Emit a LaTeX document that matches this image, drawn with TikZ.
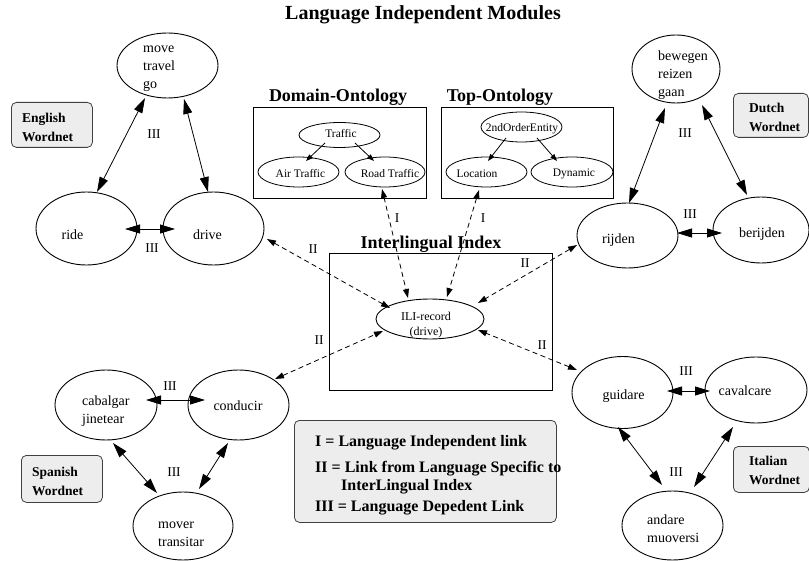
\documentclass[tikz,border=0pt]{standalone}
\usepackage{fontspec}
\setmainfont{Liberation Serif}
\usetikzlibrary{arrows.meta,calc,shapes.geometric}

\begin{document}
\begin{tikzpicture}[x=1pt,y=-1pt,
  wn/.style={ellipse,draw,line width=0.9pt,inner sep=0pt},
  onto/.style={ellipse,draw,line width=0.8pt,inner sep=0pt},
  word/.style={font=\fontsize{14}{18}\selectfont,align=left,inner sep=0pt},
  otext/.style={font=\fontsize{11.5}{13}\selectfont,inner sep=0pt},
  frame/.style={draw,line width=0.9pt},
  heading/.style={font=\bfseries\fontsize{18}{20}\selectfont,inner sep=0pt},
  wnbox/.style={draw=black!75,line width=0.8pt,fill=black!7,rounded corners=5pt,inner sep=0pt},
  wnlabel/.style={font=\bfseries\fontsize{13.5}{19}\selectfont,align=left,inner sep=0pt,anchor=west},
  legtext/.style={font=\bfseries\fontsize{16}{18}\selectfont,inner sep=0pt,anchor=west},
  lbl/.style={font=\fontsize{13.5}{15}\selectfont,inner sep=0pt},
  iii/.style={{Triangle[length=15pt,width=9pt]}-{Triangle[length=15pt,width=9pt]},line width=0.8pt},
  ii/.style={{Triangle[length=9pt,width=6pt]}-{Triangle[length=9pt,width=6pt]},line width=0.8pt,dash pattern=on 5pt off 3.5pt},
  isa/.style={-{Triangle[length=7pt,width=5pt]},line width=0.8pt}
]
\useasboundingbox (0,0) rectangle (809,561);

% ---------- headings ----------
\node[font=\bfseries\fontsize{20}{22}\selectfont,inner sep=0pt] (title) at (423,15) {Language Independent Modules};
\node[heading] (domh) at (338,97) {Domain-Ontology};
\node[heading] (toph) at (500,97) {Top-Ontology};
\node[heading] (ilih) at (431,244) {Interlingual Index};

% ---------- frames ----------
\node[frame,anchor=north west,minimum width=173,minimum height=91,inner sep=0pt] (dombox) at (253,107) {};
\node[frame,anchor=north west,minimum width=172,minimum height=91,inner sep=0pt] (topbox) at (441,107) {};
\node[frame,anchor=north west,minimum width=223,minimum height=137,inner sep=0pt] (ilibox) at (329,253) {};

% ---------- ontologies ----------
\node[onto,minimum width=81,minimum height=25] (traffic) at (339.5,135) {};
\node[onto,minimum width=81,minimum height=30] (air) at (298.5,172) {};
\node[onto,minimum width=80,minimum height=30] (road) at (385,172) {};
\node[otext] (traffict) at (341,134) {Traffic};
\node[otext] (airt) at (300.5,174) {Air Traffic};
\node[otext] (roadt) at (390,174) {Road Traffic};

\node[onto,minimum width=81,minimum height=30] (soe) at (521.5,127) {};
\node[onto,minimum width=81,minimum height=30] (loc) at (486.5,172) {};
\node[onto,minimum width=82,minimum height=30] (dyn) at (572,172) {};
\node[otext] (soet) at (522,129) {2ndOrderEntity};
\node[otext] (loct) at (477,174) {Location};
\node[otext] (dynt) at (574,174) {Dynamic};

\draw[isa] ($(traffic)+(-14.5,8)$) -- ($(air)+(7.5,-11)$);
\draw[isa] ($(traffic)+(15.5,8)$) -- ($(road)+(-11,-11)$);
\draw[isa] ($(soe)+(-15.5,11)$) -- ($(loc)+(1.5,-11)$);
\draw[isa] ($(soe)+(15.5,11)$) -- ($(dyn)+(-15,-11)$);

% ---------- ILI record ----------
\node[wn,minimum width=108,minimum height=40] (ili) at (430,319) {};
\node[font=\fontsize{12}{15}\selectfont,align=center,inner sep=0pt] (ilit) at (426,325) {ILI-record\\(drive)};

% ---------- English wordnet ----------
\node[wn,minimum width=101,minimum height=65] (move) at (167.5,65.5) {};
\node[wn,minimum width=101,minimum height=73] (ride) at (86.5,228.5) {};
\node[wn,minimum width=101,minimum height=73] (drive) at (213.5,228.5) {};
\node[word,anchor=west] (movet) at (143,69) {move\\travel\\go};
\node[word] (ridet) at (72.5,235) {ride};
\node[word] (drivet) at (207.5,235) {drive};
\node[wnbox,anchor=north west,minimum width=81,minimum height=45] (enbox) at (11,102) {};
\node[wnlabel] (ent) at (22,127) {English\\Wordnet};

% ---------- Dutch wordnet ----------
\node[wn,minimum width=88,minimum height=68] (bew) at (676,69) {};
\node[wn,minimum width=101,minimum height=65] (rij) at (627.5,235.5) {};
\node[wn,minimum width=96,minimum height=66] (ber) at (761,230) {};
\node[word,anchor=west] (bewt) at (658,75) {bewegen\\reizen\\gaan};
\node[word] (rijt) at (618.5,240) {rijden};
\node[word] (bert) at (762,234) {berijden};
\node[wnbox,anchor=north west,minimum width=75,minimum height=44] (nlbox) at (733,93) {};
\node[wnlabel] (nlt) at (749,117) {Dutch\\Wordnet};

% ---------- Spanish wordnet ----------
\node[wn,minimum width=102,minimum height=70] (cab) at (106,405) {};
\node[wn,minimum width=101,minimum height=70] (cond) at (238.5,405) {};
\node[wn,minimum width=100,minimum height=68] (mover) at (183,526) {};
\node[word,anchor=west] (cabt) at (82,411) {cabalgar\\jinetear};
\node[word] (condt) at (238,406) {conducir};
\node[word,anchor=west] (movert) at (158,534) {mover\\transitar};
\node[wnbox,anchor=north west,minimum width=81,minimum height=47] (esbox) at (21,455) {};
\node[wnlabel] (est) at (32,481) {Spanish\\Wordnet};

% ---------- Italian wordnet ----------
\node[wn,minimum width=101,minimum height=72] (guid) at (622.5,392.5) {};
\node[wn,minimum width=102,minimum height=66] (cav) at (756,390) {};
\node[wn,minimum width=101,minimum height=69] (andare) at (672.5,525.5) {};
\node[word] (guidt) at (623.5,396) {guidare};
\node[word] (cavt) at (745,391) {cavalcare};
\node[word,anchor=west] (andaret) at (647,529) {andare\\muoversi};
\node[wnbox,anchor=north west,minimum width=76,minimum height=46] (itbox) at (733,446) {};
\node[wnlabel] (itt) at (749,470) {Italian\\Wordnet};

% ---------- language dependent links (III) ----------
\draw[iii] ($(move)+(-22.5,32.5)$) -- ($(ride)+(10.5,-36.5)$);
\draw[iii] ($(move)+(16.5,33.5)$) -- ($(drive)+(-5.5,-36.5)$);
\draw[iii] ($(ride)+(38.5,0.5)$) -- ($(drive)+(-38.5,0.5)$);
\draw[iii] ($(bew)+(-11,39)$) -- ($(rij)+(1.5,-32.5)$);
\draw[iii] ($(bew)+(26,36)$) -- ($(ber)+(-14,-35)$);
\draw[iii] ($(rij)+(49.5,-2.5)$) -- ($(ber)+(-39,3)$);
\draw[iii] ($(cab)+(40,-5)$) -- ($(cond)+(-33.5,-5)$);
\draw[iii] ($(cab)+(7,38)$) -- ($(mover)+(-26,-33)$);
\draw[iii] ($(cond)+(-10.5,38)$) -- ($(mover)+(16,-37)$);
\draw[iii] ($(guid)+(44.5,-1.5)$) -- ($(cav)+(-46,1)$);
\draw[iii] ($(guid)+(-4.5,34.5)$) -- ($(andare)+(-10.5,-40.5)$);
\draw[iii] ($(cav)+(-23,37)$) -- ($(andare)+(21.5,-38.5)$);

\node[lbl] (l3a) at (154,134) {III};
\node[lbl] (l3b) at (152,248) {III};
\node[lbl] (l3c) at (685,133) {III};
\node[lbl] (l3d) at (690,214) {III};
\node[lbl] (l3e) at (170,386) {III};
\node[lbl] (l3f) at (174,472) {III};
\node[lbl] (l3g) at (686,371) {III};
\node[lbl] (l3h) at (676,472) {III};

% ---------- links to the ILI (II) ----------
\draw[ii] ($(drive)+(53.5,10.5)$) -- ($(ili)+(-40,-11)$);
\draw[ii] ($(rij)+(-50.5,9.5)$) -- ($(ili)+(48,-16)$);
\draw[ii] ($(cond)+(36.5,-26)$) -- ($(ili)+(-47,12)$);
\draw[ii] ($(guid)+(-45.5,-22.5)$) -- ($(ili)+(48,11)$);
\node[lbl] (l2a) at (313,249) {II};
\node[lbl] (l2b) at (525,263) {II};
\node[lbl] (l2c) at (319,340) {II};
\node[lbl] (l2d) at (542,345) {II};

% ---------- language independent links (I) ----------
\draw[ii] ($(road)+(-3,17)$) -- ($(ili)+(-22,-21)$);
\draw[ii] ($(loc)+(-7.5,18)$) -- ($(ili)+(17,-22)$);
\node[lbl] (l1a) at (397,218) {I};
\node[lbl] (l1b) at (483,218) {I};

% ---------- legend ----------
\node[wnbox,anchor=north west,minimum width=262,minimum height=102] (legend) at (294,420) {};
\node[legtext] (leg1) at (315,443) {I = Language Independent link};
\node[legtext] (leg2) at (315,469) {II = Link from Language Specific to};
\node[legtext] (leg3) at (341,487) {InterLingual Index};
\node[legtext] (leg4) at (315,508) {III = Language Depedent Link};
\end{tikzpicture}
\end{document}
